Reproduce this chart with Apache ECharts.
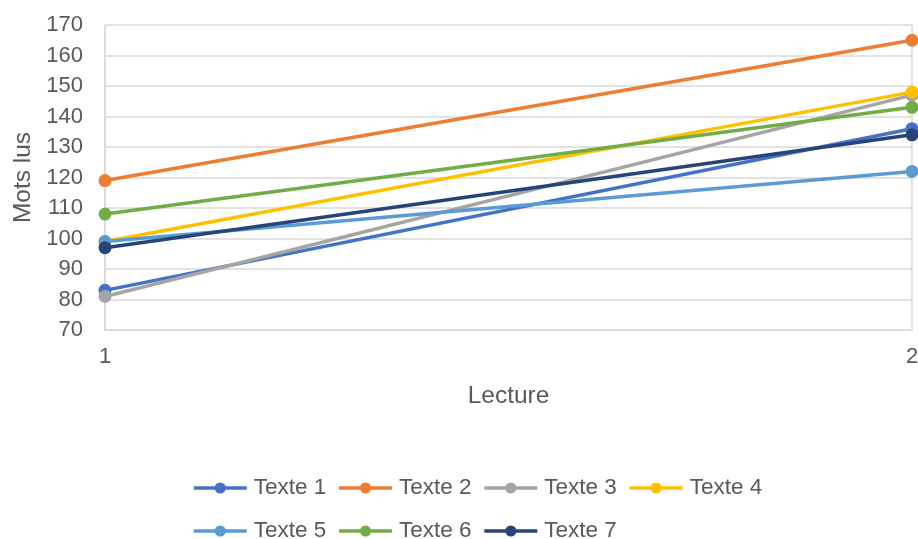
<!DOCTYPE html>
<html>
<head>
<meta charset="utf-8">
<script src="https://cdn.jsdelivr.net/npm/echarts@6/dist/echarts.min.js"></script>
<style>
  html, body { margin: 0; padding: 0; background: #fff; }
  #chart { width: 918px; height: 539px; }
</style>
</head>
<body>
<div id="chart"></div>
<script>
// Reading sessions on the x axis, words read per text on the y axis
const lectures = ['1', '2'];
const texte1 = [83, 136];
const texte2 = [119, 165];
const texte3 = [81, 147];
const texte4 = [99, 148];
const texte5 = [99, 122];
const texte6 = [108, 143];
const texte7 = [97, 134];

const seriesNames = ['Texte 1', 'Texte 2', 'Texte 3', 'Texte 4', 'Texte 5', 'Texte 6', 'Texte 7'];
const seriesValues = [texte1, texte2, texte3, texte4, texte5, texte6, texte7];
const palette = ['#4472C4', '#ED7D31', '#A5A5A5', '#FFC000', '#5B9BD5', '#70AD47', '#264478'];

const FONT = '"Liberation Sans", Arial, sans-serif';
const TEXT = '#595959';
const GRID = '#D9D9D9';

const chart = echarts.init(document.getElementById('chart'), null, { renderer: 'canvas' });

chart.setOption({
  animation: false,
  color: palette,
  textStyle: { fontFamily: FONT },
  grid: { left: 105, right: 6, top: 25, bottom: 209, containLabel: false, outerBoundsMode: 'none' },
  xAxis: {
    type: 'category',
    data: lectures,
    boundaryGap: false,
    name: 'Lecture',
    nameLocation: 'middle',
    nameGap: 54,
    nameTextStyle: { color: TEXT, fontSize: 24.5, fontFamily: FONT },
    axisLine: { show: true, lineStyle: { color: GRID, width: 1.5 } },
    axisTick: { show: false },
    axisLabel: { color: TEXT, fontSize: 22, margin: 16, fontFamily: FONT },
    splitLine: { show: true, lineStyle: { color: GRID, width: 1.5 } }
  },
  yAxis: {
    type: 'value',
    min: 70,
    max: 170,
    interval: 10,
    name: 'Mots lus',
    nameLocation: 'middle',
    nameGap: 68,
    nameTextStyle: { color: TEXT, fontSize: 24.5, fontFamily: FONT },
    axisLine: { show: true, lineStyle: { color: GRID, width: 1.5 } },
    axisTick: { show: false },
    axisLabel: { color: TEXT, fontSize: 22, margin: 22, fontFamily: FONT },
    splitLine: { show: true, lineStyle: { color: GRID, width: 1.5 } }
  },
  legend: {
    left: 192,
    top: 472,
    width: 600,
    padding: 0,
    itemWidth: 53,
    itemHeight: 14,
    itemGap: 11,
    lineStyle: { width: 3.5 },
    textStyle: { color: TEXT, fontSize: 22.5, lineHeight: 32, fontFamily: FONT, padding: [0, 0, 0, 2] },
    data: seriesNames
  },
  series: seriesNames.map((name, i) => ({
    name: name,
    type: 'line',
    data: seriesValues[i],
    symbol: 'circle',
    symbolSize: 13,
    showSymbol: true,
    lineStyle: { width: 3.5, color: palette[i] },
    itemStyle: { color: palette[i] },
    emphasis: { disabled: true }
  }))
});
</script>
</body>
</html>
